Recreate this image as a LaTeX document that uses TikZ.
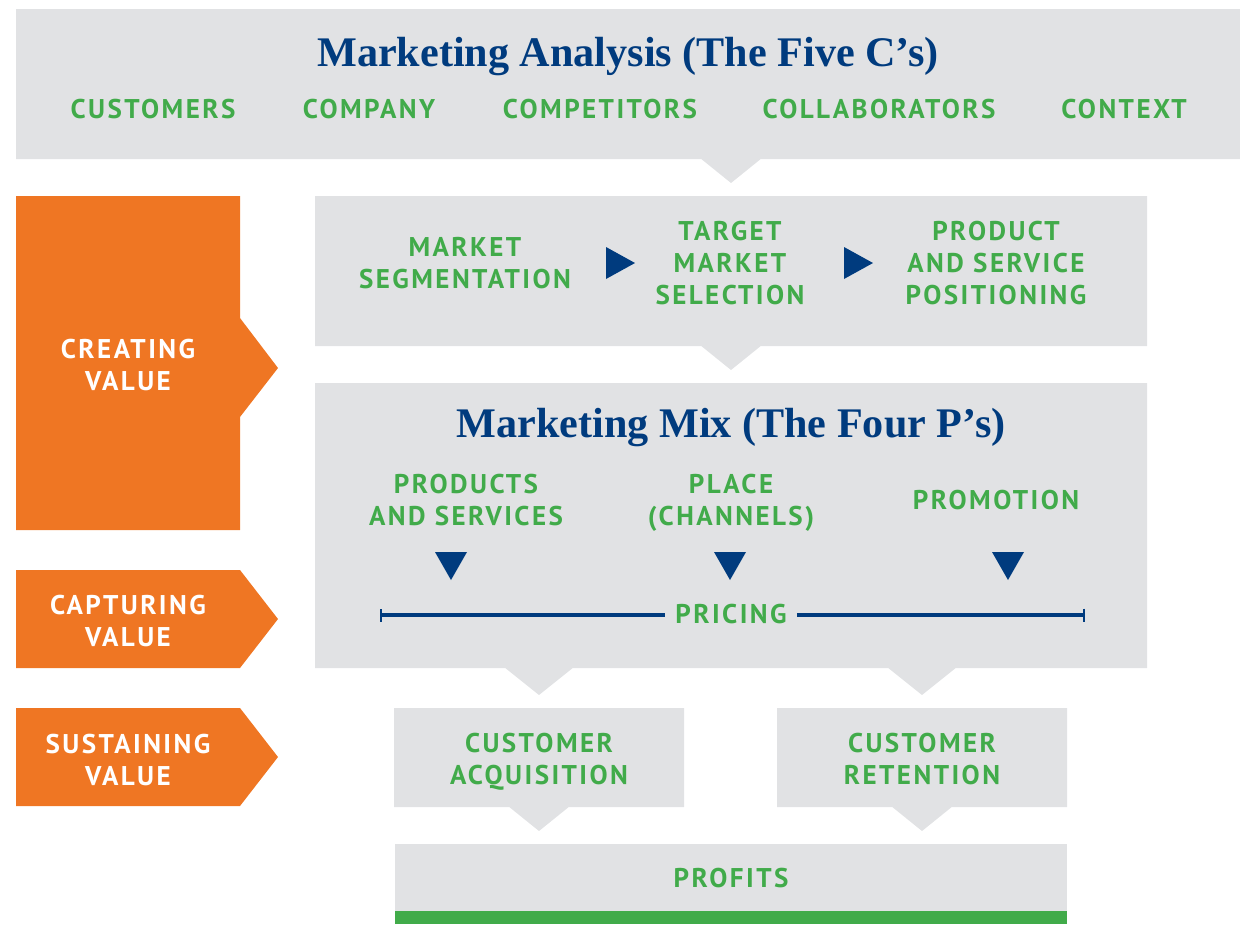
\documentclass[tikz,border=0pt]{standalone}
\usepackage{fontspec}
\setmainfont{Liberation Serif}
\newfontfamily\capsfont[LetterSpace=9]{PT Sans}
\usetikzlibrary{arrows.meta}
\definecolor{boxgray}{HTML}{E1E2E4}
\definecolor{capgreen}{HTML}{41AB4A}
\definecolor{navy}{HTML}{003B7E}
\definecolor{valorange}{HTML}{EF7623}

\begin{document}
\begin{tikzpicture}[x=0.02cm,y=-0.02cm,every text node part/.style={align=center},
caps/.style={font=\capsfont\bfseries\fontsize{15.4}{18.2}\selectfont,text=capgreen,inner sep=0pt,anchor=base},
valuetext/.style={caps,text=white},
titletext/.style={font=\bfseries\fontsize{24}{28}\selectfont,text=navy,inner sep=0pt,anchor=base},
graybox/.style={fill=boxgray},
orangebox/.style={fill=valorange},
marker/.style={fill=navy},
pricebar/.style={draw=navy,line width=0.07cm}]
\useasboundingbox (0,0) rectangle (1240,924);
\fill[graybox] (16,9) rectangle (1240,159) (700,158) -- (731,183) -- (762,158) -- cycle;
\fill[graybox] (315,196) rectangle (1147,346) (700,345) -- (731,370) -- (762,345) -- cycle;
\fill[graybox] (315,383) rectangle (1147,668) (504,667) -- (539,695) -- (574,667) -- cycle (887,667) -- (922,695) -- (957,667) -- cycle;
\fill[graybox] (394,708) rectangle (684,807) (508,806) -- (539,831) -- (570,806) -- cycle;
\fill[graybox] (777,708) rectangle (1067,807) (891,806) -- (922,831) -- (953,806) -- cycle;
\fill[graybox] (395,844) rectangle (1067,912);
\fill[capgreen] (395,911) rectangle (1067,924);
\fill[orangebox] (16,196) -- (240,196) -- (240,318) -- (278,368) -- (240,417) -- (240,530) -- (16,530) -- cycle;
\fill[orangebox] (16,570) -- (240,570) -- (278,619) -- (240,668) -- (16,668) -- cycle;
\fill[orangebox] (16,708) -- (240,708) -- (278,757) -- (240,806) -- (16,806) -- cycle;

\node[titletext] (analysis) at (628,66) {Marketing Analysis (The Five C’s)};
\node[caps] (customers) at (153,118) {CUSTOMERS};
\node[caps] (company) at (369,118) {COMPANY};
\node[caps] (competitors) at (600,118) {COMPETITORS};
\node[caps] (collaborators) at (879,118) {COLLABORATORS};
\node[caps] (context) at (1124,118) {CONTEXT};

\node[caps] (segmentation) at (465,288) {MARKET\\SEGMENTATION};
\node[caps] (targeting) at (730,304) {TARGET\\MARKET\\SELECTION};
\node[caps] (positioning) at (996,304) {PRODUCT\\AND SERVICE\\POSITIONING};
\fill[marker] (606,247) -- (635,263) -- (606,279) -- cycle;
\fill[marker] (844,247) -- (873,263) -- (844,279) -- cycle;

\node[titletext] (mix) at (731,437) {Marketing Mix (The Four P’s)};
\node[caps] (products) at (466,525) {PRODUCTS\\AND SERVICES};
\node[caps] (place) at (731,525) {PLACE\\(CHANNELS)};
\node[caps] (promotion) at (996,509) {PROMOTION};
\fill[marker] (435,552) -- (467,552) -- (451,580) -- cycle;
\fill[marker] (714,552) -- (746,552) -- (730,580) -- cycle;
\fill[marker] (992,552) -- (1024,552) -- (1008,580) -- cycle;
\node[caps,inner xsep=0.2cm] (pricing) at (731,623) {PRICING};
\coordinate (priceleft) at (380,615);
\coordinate (priceright) at (1085,615);
\draw[pricebar,{Bar[width=0.26cm,line width=0.04cm]}-] (priceleft) -- (priceleft -| pricing.west);
\draw[pricebar,-{Bar[width=0.26cm,line width=0.04cm]}] (priceright -| pricing.east) -- (priceright);

\node[valuetext] (creating) at (128,390) {CREATING\\VALUE};
\node[valuetext] (capturing) at (128,646) {CAPTURING\\VALUE};
\node[valuetext] (sustaining) at (128,785) {SUSTAINING\\VALUE};

\node[caps] (acquisition) at (539,784) {CUSTOMER\\ACQUISITION};
\node[caps] (retention) at (922,784) {CUSTOMER\\RETENTION};
\node[caps] (profits) at (731,887) {PROFITS};
\end{tikzpicture}
\end{document}
